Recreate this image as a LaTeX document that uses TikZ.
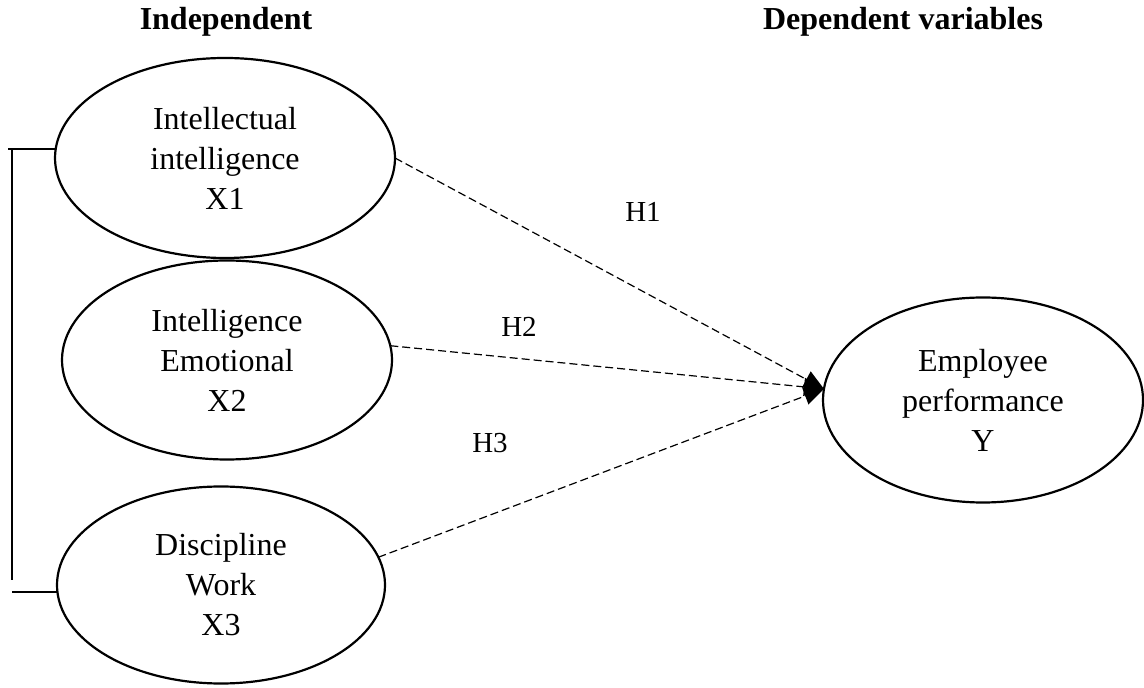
\documentclass[tikz,border=0pt]{standalone}
\usepackage{fontspec}
\setmainfont{Liberation Serif}
\usetikzlibrary{shapes,arrows.meta,positioning}

\begin{document}
\begin{tikzpicture}[x=0.5pt,y=-0.5pt,
var/.style={draw,ellipse,line width=1.1pt,inner sep=0pt,outer sep=0pt,align=center,font=\fontsize{16}{20}\selectfont},
hyp/.style={draw,dash pattern=on 4pt off 2pt,line width=0.6pt,-{Triangle[length=10pt,width=9pt]}},
lbl/.style={font=\fontsize{14.5}{17}\selectfont},
head/.style={font=\bfseries\fontsize{16}{20}\selectfont}]

        \useasboundingbox (0,0) rectangle (1144,688);

        \node [head] (indep) at (226,22) {Independent};
        \node [head] (dep) at (903,22) {Dependent variables};

        \node [var, minimum width=170pt, minimum height=100pt] (intel) at (225,158) {Intellectual\\intelligence\\X1};
        \node [var, minimum width=165pt, minimum height=99.5pt] (emo) at (227,360) {Intelligence\\Emotional\\X2};
        \node [var, minimum width=164pt, minimum height=98.5pt] (disc) at (221,585) {Discipline\\Work\\X3};
        \node [var, minimum width=160pt, minimum height=102.5pt] (perf) at (983,400) {Employee\\performance\\Y};

        \node [lbl] (h1) at (643,212) {H1};
        \node [lbl] (h2) at (519,327) {H2};
        \node [lbl] (h3) at (490,443) {H3};

        \draw [hyp] (intel.east) -- (perf.176);
        \draw [hyp] (emo.5) -- (perf.176);
        \draw [hyp] (disc.10) -- (perf.176);

        \coordinate (bk1) at (8,149);
        \coordinate (bk2) at (12,580);
        \coordinate (bk3) at (12,592);
        \draw [line width=0.6pt] (bk1) -- (bk1 -| intel.west);
        \draw [line width=0.6pt] (bk1 -| bk2) -- (bk2);
        \draw [line width=0.6pt] (bk3) -- (bk3 -| disc.west);
    \end{tikzpicture}
\end{document}
